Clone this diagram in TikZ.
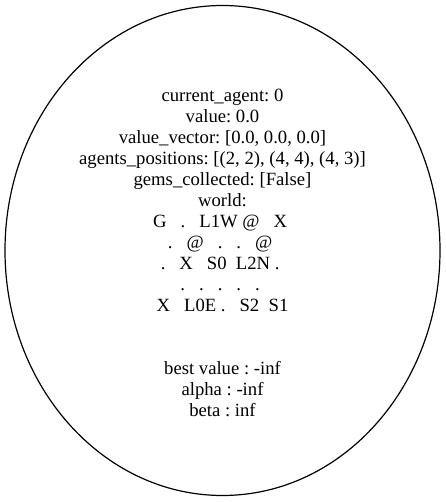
\documentclass[tikz,border=0pt]{standalone}
\usepackage{fontspec}
\setmainfont{Liberation Serif}
\usetikzlibrary{shapes.geometric}
\begin{document}
\begin{tikzpicture}[x=1pt,y=-1pt,
  txt/.style={anchor=base,inner sep=0pt,font=\fontsize{18.67}{21}\selectfont\frenchspacing},
  statenode/.style={draw,ellipse,line width=1.2pt,minimum width=435pt,minimum height=490pt,inner sep=0pt}]
\useasboundingbox (0,0) rectangle (445,502);
\node[statenode] (state) at (222.5,250.5) {};
\node[txt] (l1) at (222.5,101.5) {current\_agent: 0};
\node[txt] (l2) at (222.5,122.5) {value: 0.0};
\node[txt] (l3) at (222.5,143.5) {value\_vector: [0.0, 0.0, 0.0]};
\node[txt] (l4) at (222.5,164.5) {agents\_positions: [(2, 2), (4, 4), (4, 3)]};
\node[txt] (l5) at (222.5,185.5) {gems\_collected: [False]};
\node[txt] (l6) at (222.5,206.5) {world:};
\node[txt] (l7) at (222.5,227.5) {G~~~.~~~L1W~@~~~X~~};
\node[txt] (l8) at (222.5,248.5) {.~~~@~~~.~~~.~~~@~~};
\node[txt] (l9) at (222.5,269.5) {.~~~X~~~S0~~L2N~.~~};
\node[txt] (l10) at (222.5,290.5) {.~~~.~~~.~~~.~~~.~~};
\node[txt] (l11) at (222.5,311.5) {X~~~L0E~.~~~S2~~S1~};
\node[txt] (l14) at (222.5,374.5) {best value : -inf};
\node[txt] (l15) at (222.5,395.5) {alpha : -inf};
\node[txt] (l16) at (222.5,416.5) {beta : inf};
\end{tikzpicture}
\end{document}
